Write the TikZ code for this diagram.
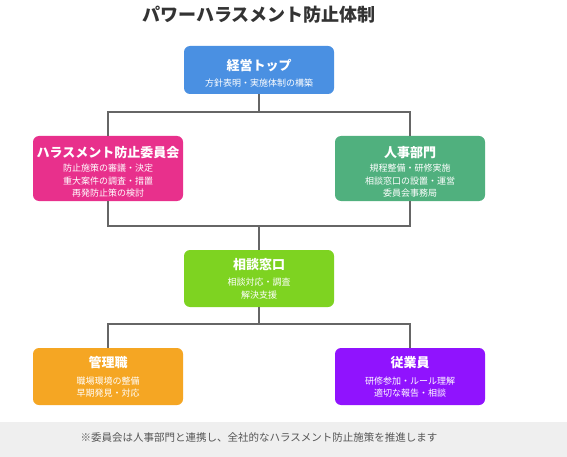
\documentclass[tikz,border=0pt]{standalone}
\usepackage{fontspec}
\setmainfont{Noto Sans CJK JP}
\definecolor{cblue}{HTML}{4A90E2}
\definecolor{cpink}{HTML}{E8308C}
\definecolor{cgreen}{HTML}{50B07E}
\definecolor{clime}{HTML}{7ED321}
\definecolor{corange}{HTML}{F5A623}
\definecolor{cpurple}{HTML}{9013FE}
\definecolor{cline}{HTML}{666666}
\definecolor{cfoot}{HTML}{EFEFEF}
\definecolor{ctitle}{HTML}{333333}
\definecolor{cfoottext}{HTML}{555555}
\begin{document}
\begin{tikzpicture}[x=1pt,y=-1pt,
  box/.style={draw=none,rounded corners=6pt,inner sep=0pt,minimum width=150pt},
  btitle/.style={text=white,font=\fontsize{13}{15}\selectfont\bfseries,inner sep=0pt},
  bsub/.style={text=white,font=\fontsize{9}{12.5}\selectfont,align=center,inner sep=0pt},
  conn/.style={draw=cline,line width=1.3pt}]
\useasboundingbox (0,0) rectangle (567,457);
\fill[white] (0,0) rectangle (567,457);
\fill[cfoot] (0,422) rectangle (567,457);
\node[font=\fontsize{18}{20}\selectfont\bfseries,text=ctitle,inner sep=0pt] (title) at (259,15) {パワーハラスメント防止体制};

% boxes
\node[box,fill=cblue,minimum height=48pt] (top) at (259,70) {};
\node[box,fill=cpink,minimum height=65pt] (com) at (108,168.5) {};
\node[box,fill=cgreen,minimum height=65pt] (hr) at (410,168.5) {};
\node[box,fill=clime,minimum height=57pt] (con) at (259,278.5) {};
\node[box,fill=corange,minimum height=57pt] (mgr) at (108,376.5) {};
\node[box,fill=cpurple,minimum height=57pt] (emp) at (410,376.5) {};

% texts
\node[btitle] (topt) at (259,66) {経営トップ};
\node[bsub] (tops) at (259,83) {方針表明・実施体制の構築};
\node[btitle] (comt) at (108,153) {ハラスメント防止委員会};
\node[bsub,anchor=north] (coms) at (108,164) {防止施策の審議・決定\\重大案件の調査・措置\\再発防止策の検討};
\node[btitle] (hrt) at (410,153) {人事部門};
\node[bsub,anchor=north] (hrs) at (410,164) {規程整備・研修実施\\相談窓口の設置・運営\\委員会事務局};
\node[btitle] (cont) at (259,265) {相談窓口};
\node[bsub,anchor=north] (cons) at (259,278) {相談対応・調査\\解決支援};
\node[btitle] (mgrt) at (108,363) {管理職};
\node[bsub,anchor=north] (mgrs) at (108,376.5) {職場環境の整備\\早期発見・対応};
\node[btitle] (empt) at (410,363) {従業員};
\node[bsub,anchor=north] (emps) at (410,376.5) {研修参加・ルール理解\\適切な報告・相談};

\node[font=\fontsize{10.5}{12}\selectfont,text=cfoottext,inner sep=0pt] (foot) at (259,438) {※委員会は人事部門と連携し、全社的なハラスメント防止施策を推進します};

% connectors
\coordinate (j1) at (259,112);
\coordinate (j2) at (259,226);
\coordinate (j3) at (259,324);
\draw[conn] (top.south) -- (j1);
\draw[conn] (com.north) |- (j1) -| (hr.north);
\draw[conn] (com.south) |- (j2) -| (hr.south);
\draw[conn] (j2) -- (con.north);
\draw[conn] (con.south) -- (j3);
\draw[conn] (mgr.north) |- (j3) -| (emp.north);
\end{tikzpicture}
\end{document}
